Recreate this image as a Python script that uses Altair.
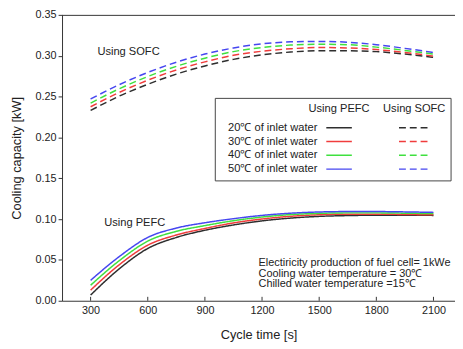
import altair as alt
import pandas as pd

# ---- data ----
cycle_time = [300, 450, 600, 750, 900, 1050, 1200, 1350, 1500, 1650, 1800, 1950, 2100]

pefc_20 = [0.007, 0.039, 0.064, 0.0775, 0.0863, 0.0928, 0.0978, 0.1012, 0.1033, 0.1043, 0.1047, 0.1047, 0.1045]
pefc_30 = [0.013, 0.044, 0.068, 0.0805, 0.0885, 0.0953, 0.1001, 0.1034, 0.1053, 0.1060, 0.1060, 0.1056, 0.1052]
pefc_40 = [0.019, 0.049, 0.073, 0.0850, 0.0920, 0.0980, 0.1025, 0.1055, 0.1070, 0.1076, 0.1076, 0.1072, 0.1067]
pefc_50 = [0.025, 0.054, 0.0775, 0.0890, 0.0955, 0.1005, 0.1045, 0.1072, 0.1087, 0.1092, 0.1092, 0.1088, 0.1082]

sofc_20 = [0.233, 0.2505, 0.265, 0.2775, 0.2875, 0.2955, 0.301, 0.3045, 0.306, 0.306, 0.305, 0.302, 0.298]
sofc_30 = [0.2375, 0.255, 0.270, 0.2825, 0.2925, 0.3005, 0.3055, 0.3085, 0.310, 0.3095, 0.3075, 0.304, 0.2995]
sofc_40 = [0.242, 0.2595, 0.2745, 0.287, 0.297, 0.305, 0.310, 0.313, 0.314, 0.3135, 0.3105, 0.3065, 0.302]
sofc_50 = [0.247, 0.2645, 0.2795, 0.292, 0.302, 0.3095, 0.3145, 0.317, 0.3175, 0.3165, 0.3135, 0.309, 0.304]

temps = ["20℃ of inlet water", "30℃ of inlet water", "40℃ of inlet water", "50℃ of inlet water"]
fuels = ["PEFC", "SOFC"]
colors = ["#2e2e2e", "#f03c3c", "#3fe03f", "#4646f0"]

x_ticks = [300, 600, 900, 1200, 1500, 1800, 2100]
y_ticks = [0.0, 0.05, 0.10, 0.15, 0.20, 0.25, 0.30, 0.35]

notes = ["Electiricity production of fuel cell= 1kWe",
         "Cooling water temperature = 30℃",
         "Chilled water temperature =15℃"]

# ---- build table ----
series = {
    "PEFC": [pefc_20, pefc_30, pefc_40, pefc_50],
    "SOFC": [sofc_20, sofc_30, sofc_40, sofc_50],
}
rows = []
for fuel in fuels:
    for t, vals in zip(temps, series[fuel]):
        for x, v in zip(cycle_time, vals):
            rows.append({"t": x, "cap": v, "temp": t, "fuel": fuel, "key": fuel + t})
df = pd.DataFrame(rows)

W, H = 400, 291
FONT = "Liberation Sans"
TXT = "#222222"

xscale = alt.Scale(domain=[150, 2213], nice=False, zero=False)
yscale = alt.Scale(domain=[0, 0.35], nice=False, zero=False)

xaxis = alt.Axis(values=x_ticks, ticks=False, grid=False, labelPadding=4,
                 title="Cycle time [s]", titlePadding=13, format="d")

lines = alt.Chart(df).mark_line(strokeWidth=1.5, interpolate="monotone").encode(
    x=alt.X("t:Q", scale=xscale, axis=xaxis),
    y=alt.Y("cap:Q", scale=yscale,
            axis=alt.Axis(values=y_ticks, format=".2f", grid=False, tickSize=4,
                          labelPadding=2, title="Cooling capacity [kW]", titlePadding=12)),
    color=alt.Color("temp:N", scale=alt.Scale(domain=temps, range=colors), legend=None),
    strokeDash=alt.StrokeDash("fuel:N", scale=alt.Scale(domain=fuels, range=[[1, 0], [7, 4]]),
                              legend=None),
    detail="key:N",
)

# inward x ticks
tick_df = pd.DataFrame({"t": x_ticks})
xticks = alt.Chart(tick_df).mark_rule(color="#333333", strokeWidth=1).encode(
    x=alt.X("t:Q", scale=xscale, axis=xaxis),
    y=alt.value(H),
    y2=alt.value(H - 4),
)

# top frame line
top = alt.Chart(tick_df.head(1)).mark_rule(color="#333333", strokeWidth=1).encode(
    x=alt.value(0), x2=alt.value(W), y=alt.value(0.5)
)

# curve labels
lab_df = pd.DataFrame({"txt": ["Using SOFC", "Using PEFC"], "px": [36, 43], "py": [38, 212]})
labels = alt.Chart(lab_df).mark_text(align="left", baseline="middle", font=FONT,
                                     fontSize=11.3, color=TXT).encode(
    x=alt.X("px:Q", scale=None), y=alt.Y("py:Q", scale=None), text="txt:N")

# notes
note_df = pd.DataFrame({"txt": notes, "px": [200, 200, 200], "py": [252.5, 263.5, 274.5]})
note_marks = alt.Chart(note_df).mark_text(align="left", baseline="middle", font=FONT,
                                          fontSize=11.1, color=TXT).encode(
    x=alt.X("px:Q", scale=None), y=alt.Y("py:Q", scale=None), text="txt:N")

# legend box
box = alt.Chart(tick_df.head(1)).mark_rect(fill="white", stroke="#444444", strokeWidth=1).encode(
    x=alt.value(156), x2=alt.value(396), y=alt.value(85), y2=alt.value(169)
)
head_df = pd.DataFrame({"txt": ["Using PEFC", "Using SOFC"], "px": [282, 358.5], "py": [96, 96]})
heads = alt.Chart(head_df).mark_text(align="center", baseline="middle", font=FONT,
                                     fontSize=11.3, color=TXT).encode(
    x=alt.X("px:Q", scale=None), y=alt.Y("py:Q", scale=None), text="txt:N")

row_y = [115, 129, 143, 157]
leg_txt_df = pd.DataFrame({"txt": temps, "px": [169] * 4, "py": row_y})
leg_txt = alt.Chart(leg_txt_df).mark_text(align="left", baseline="middle", font=FONT,
                                          fontSize=11.3, color=TXT).encode(
    x=alt.X("px:Q", scale=None), y=alt.Y("py:Q", scale=None), text="txt:N")

leg_rows = []
for fuel, x0, x1 in [("PEFC", 269, 295), ("SOFC", 343, 372)]:
    for t, yy in zip(temps, row_y):
        leg_rows.append({"temp": t, "fuel": fuel, "x0": x0, "x1": x1, "py": yy})
leg_line_df = pd.DataFrame(leg_rows)
leg_lines = alt.Chart(leg_line_df).mark_rule(strokeWidth=1.5).encode(
    x=alt.X("x0:Q", scale=None), x2="x1:Q", y=alt.Y("py:Q", scale=None),
    color=alt.Color("temp:N", scale=alt.Scale(domain=temps, range=colors), legend=None),
    strokeDash=alt.StrokeDash("fuel:N", scale=alt.Scale(domain=fuels, range=[[1, 0], [7, 4]]),
                              legend=None),
)

chart = alt.layer(
    lines, xticks, top, labels, note_marks, box, heads, leg_txt, leg_lines
).properties(
    width=W, height=H,
    background="white",
    autosize=alt.AutoSizeParams(type="none"),
    padding={"left": 55, "top": 4, "right": 0, "bottom": 40},
).configure_view(
    stroke=None
).configure_axis(
    domainColor="#333333", tickColor="#333333", labelColor=TXT, titleColor=TXT,
    labelFont=FONT, titleFont=FONT, labelFontSize=11, titleFontSize=13,
    titleFontWeight="normal",
)

chart.save("out.html", embed_options={"renderer": "svg", "actions": False})
